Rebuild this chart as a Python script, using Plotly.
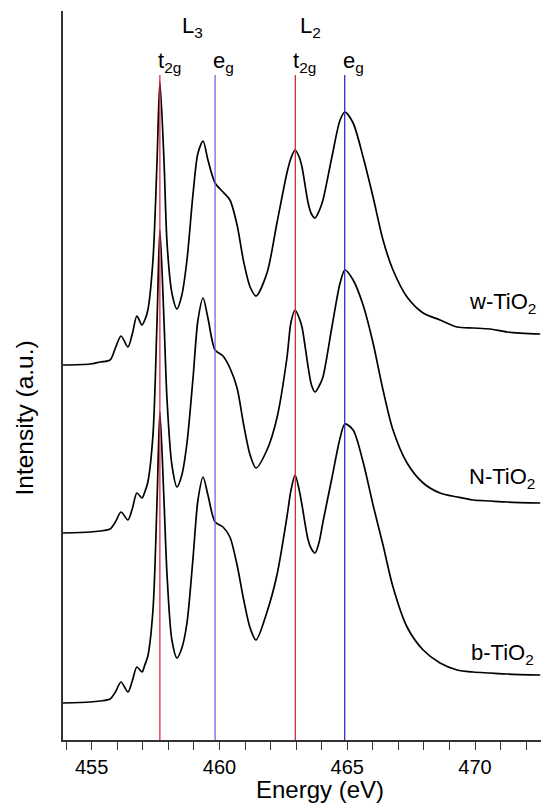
import plotly.graph_objects as go

# Energy grid (eV)
energy = [453.88, 454.93, 455.33, 455.72, 455.93, 456.15, 456.42, 456.60, 456.77, 456.97,
          457.08, 457.20, 457.40, 457.56, 457.67, 457.83, 457.95, 458.14, 458.34, 458.53,
          458.73, 458.97, 459.16, 459.36, 459.55, 459.83, 460.14, 460.41, 460.69, 460.95,
          461.20, 461.43, 461.86, 462.25, 462.64, 462.80, 462.96, 463.12, 463.23, 463.47,
          463.60, 463.74, 463.90, 464.05, 464.40, 464.72, 464.91, 465.23, 465.62, 466.01,
          466.40, 466.79, 467.34, 467.97, 468.63, 469.30, 469.92, 470.59, 471.26, 472.55]

# Stacked intensities (a.u.)
w_tio2 = [3.75, 3.76, 3.78, 3.80, 3.92, 4.04, 3.93, 4.07, 4.24, 4.15,
          4.20, 4.30, 4.80, 5.80, 6.58, 5.80, 4.97, 4.47, 4.31, 4.45,
          4.80, 5.47, 5.87, 5.99, 5.80, 5.57, 5.48, 5.40, 5.15, 4.78,
          4.53, 4.44, 4.67, 5.17, 5.67, 5.82, 5.90, 5.83, 5.73, 5.37,
          5.26, 5.22, 5.29, 5.40, 5.83, 6.20, 6.28, 6.17, 5.83, 5.43,
          5.00, 4.70, 4.43, 4.27, 4.20, 4.13, 4.12, 4.11, 4.08, 4.06]

n_tio2 = [2.07, 2.08, 2.09, 2.11, 2.18, 2.28, 2.20, 2.32, 2.47, 2.42,
          2.48, 2.58, 3.05, 4.20, 5.10, 4.20, 3.40, 2.75, 2.53, 2.65,
          2.97, 3.63, 4.20, 4.42, 4.22, 3.90, 3.84, 3.72, 3.52, 3.15,
          2.85, 2.72, 2.90, 3.22, 3.82, 4.18, 4.30, 4.22, 4.13, 3.73,
          3.55, 3.48, 3.54, 3.63, 4.13, 4.57, 4.70, 4.60, 4.35, 3.97,
          3.50, 3.10, 2.77, 2.57, 2.47, 2.43, 2.40, 2.39, 2.38, 2.37]

b_tio2 = [0.37, 0.38, 0.39, 0.41, 0.48, 0.58, 0.48, 0.60, 0.73, 0.68,
          0.75, 0.84, 1.30, 2.40, 3.28, 2.40, 1.65, 1.00, 0.82, 0.92,
          1.17, 1.83, 2.40, 2.63, 2.45, 2.18, 2.13, 2.03, 1.75, 1.40,
          1.12, 1.00, 1.28, 1.65, 2.23, 2.50, 2.65, 2.50, 2.35, 2.00,
          1.91, 1.87, 1.98, 2.18, 2.62, 3.02, 3.16, 3.10, 2.78, 2.35,
          1.95, 1.53, 1.13, 0.90, 0.77, 0.70, 0.68, 0.67, 0.66, 0.65]

series_names = ["w-TiO<sub>2</sub>", "N-TiO<sub>2</sub>", "b-TiO<sub>2</sub>"]
series_values = [w_tio2, n_tio2, b_tio2]
label_y = [4.37, 2.62, 0.86]

# Reference lines: L3 t2g, L3 eg, L2 t2g, L2 eg
line_energies = [457.67, 459.83, 462.97, 464.90]
line_colors = ["rgb(215,45,55)", "rgb(105,105,235)", "rgb(215,45,55)", "rgb(45,45,215)"]
line_labels = ["t<sub>2g</sub>", "e<sub>g</sub>", "t<sub>2g</sub>", "e<sub>g</sub>"]
line_top = 6.65
edge_labels = ["L<sub>3</sub>", "L<sub>2</sub>"]
edge_energies = [458.93, 463.55]

FONT = "Liberation Sans, Arial, sans-serif"

fig = go.Figure()
for name, vals in zip(series_names, series_values):
    fig.add_trace(go.Scatter(x=energy, y=vals, mode="lines", name=name,
                             line=dict(color="black", width=1.7, shape="spline", smoothing=0.8),
                             showlegend=False))

shapes = []
for e, c in zip(line_energies, line_colors):
    shapes.append(dict(type="line", xref="x", yref="y", x0=e, x1=e, y0=0, y1=line_top,
                       line=dict(color=c, width=1.3), layer="above"))

annotations = []
for e, t in zip(line_energies, line_labels):
    annotations.append(dict(x=e, y=line_top, xref="x", yref="y", text=t, showarrow=False,
                            xanchor="left", yanchor="bottom", xshift=-4, yshift=-3,
                            font=dict(family=FONT, size=22, color="black")))
for e, t in zip(edge_energies, edge_labels):
    annotations.append(dict(x=e, y=7.13, xref="x", yref="y", text=t, showarrow=False,
                            xanchor="center", yanchor="middle",
                            font=dict(family=FONT, size=22, color="black")))
for name, ly in zip(series_names, label_y):
    annotations.append(dict(x=471.06, y=ly, xref="x", yref="y", text=name, showarrow=False,
                            xanchor="center", yanchor="middle",
                            font=dict(family=FONT, size=22, color="black")))
annotations.append(dict(x=-0.080, y=0.442, xref="paper", yref="paper", text="Intensity (a.u.)",
                        textangle=-90, showarrow=False, xanchor="center", yanchor="middle",
                        font=dict(family=FONT, size=24.5, color="black")))
annotations.append(dict(x=0.537, y=-0.068, xref="paper", yref="paper", text="Energy (eV)",
                        showarrow=False, xanchor="center", yanchor="middle",
                        font=dict(family=FONT, size=24, color="black")))

fig.update_layout(
    width=541, height=807,
    margin=dict(l=63, r=0, t=11, b=67),
    paper_bgcolor="white", plot_bgcolor="white",
    shapes=shapes, annotations=annotations,
    xaxis=dict(range=[453.88, 472.58], tickvals=[455, 460, 465, 470],
               ticks="outside", ticklen=8, tickwidth=1.3, tickcolor="#333",
               showline=True, linecolor="#333", linewidth=1.8, showgrid=False, zeroline=False,
               tickfont=dict(family=FONT, size=20, color="black"),
               minor=dict(dtick=1, tick0=455, ticks="outside", ticklen=8, tickwidth=1.3,
                          tickcolor="#333", showgrid=False)),
    yaxis=dict(range=[0, 7.29], showticklabels=False, ticks="", showline=True,
               linecolor="#333", linewidth=1.8, showgrid=False, zeroline=False),
)

fig.write_html("out.html")
